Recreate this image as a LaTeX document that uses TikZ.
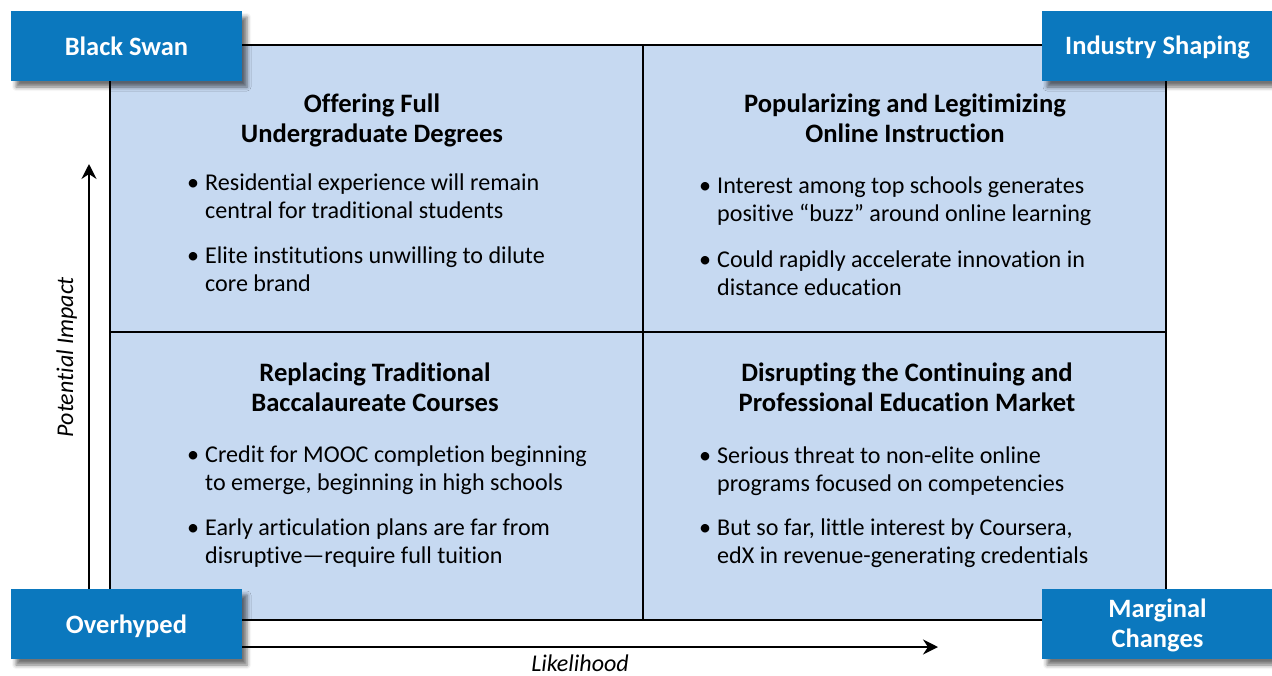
\documentclass[tikz,border=0pt]{standalone}
\usepackage{fontspec}
\setmainfont{Carlito}[Ligatures=NoCommon]
\usetikzlibrary{arrows.meta,shadows.blur}
\definecolor{qfill}{HTML}{C6D9F1}
\definecolor{cornerblue}{HTML}{0B78BE}
\newcommand\bulitem[1]{\makebox[18pt][l]{\textbullet}\begin{tabular}[t]{@{}l@{}}#1\end{tabular}}
\newcommand\ttlines[1]{\begin{tabular}[t]{@{}c@{}}#1\end{tabular}}
\begin{document}
\begin{tikzpicture}[x=1pt,y=-1pt,
  corner/.style={fill=cornerblue, text=white, font=\fontsize{26.5}{30.5}\selectfont\bfseries,
    minimum width=231pt, minimum height=70pt, inner sep=0pt,
    blur shadow={shadow xshift=5pt, shadow yshift=-6pt, shadow blur radius=4pt, shadow opacity=55}},
  cornertxt/.style={anchor=base, inner sep=0pt, text=white, font=\fontsize{26.5}{30.5}\selectfont\bfseries},
  ttl/.style={anchor=base, inner sep=0pt, font=\fontsize{26.6}{30.8}\selectfont\bfseries},
  itm/.style={anchor=base west, inner sep=0pt, font=\fontsize{24.1}{28}\selectfont},
  gridline/.style={draw=black, line width=1.8pt},
  axis/.style={line width=2pt, -{Stealth[length=15pt,width=15pt,inset=5pt]}},
  axlabel/.style={inner sep=0pt, font=\fontsize{24}{28}\selectfont\itshape}
]
\useasboundingbox (0,0) rectangle (1272,675);
% quadrant area
\fill[qfill] (110,45) rectangle (1166,620);
\draw[gridline] (110,45) rectangle (1166,620);
\coordinate (mt) at (643,45);
\coordinate (mb) at (643,620);
\coordinate (ml) at (110,332);
\coordinate (mr) at (1166,332);
\draw[gridline] (mt) -- (mb);
\draw[gridline] (ml) -- (mr);
% axes
\coordinate (vs) at (89,600);
\coordinate (ve) at (89,164);
\coordinate (hs) at (230,647);
\coordinate (he) at (938,647);
\draw[axis] (vs) -- (ve);
\draw[axis] (hs) -- (he);
\node[axlabel, anchor=base] (lik) at (580,671) {Likelihood};
\node[axlabel, rotate=90, anchor=base] (pot) at (73,357) {Potential Impact};
% corner boxes
\node[corner] (bs) at (126.5,46) {};
\node[corner] (is) at (1157.5,46) {};
\node[corner] (oh) at (126.5,624) {};
\node[corner] (mc) at (1157.5,624) {};
\node[cornertxt] (bst) at (126.5,55) {Black Swan};
\node[cornertxt] (ist) at (1157.5,54) {Industry Shaping};
\node[cornertxt] (oht) at (126.5,633) {Overhyped};
\node[cornertxt] (mct) at (1157.5,617) {\ttlines{Marginal\\Changes}};
% top left
\node[ttl] (t1) at (372,112) {\ttlines{Offering Full\\Undergraduate Degrees}};
\node[itm] (b11) at (187,190) {\bulitem{Residential experience will remain\\central for traditional students}};
\node[itm] (b12) at (187,263) {\bulitem{Elite institutions unwilling to dilute\\core brand}};
% top right
\node[ttl] (t2) at (905,112) {\ttlines{Popularizing and Legitimizing\\Online Instruction}};
\node[itm] (b21) at (699,193) {\bulitem{Interest among top schools generates\\positive “buzz” around online learning}};
\node[itm] (b22) at (699,267) {\bulitem{Could rapidly accelerate innovation in\\distance education}};
% bottom left
\node[ttl] (t3) at (375,381) {\ttlines{Replacing Traditional\\Baccalaureate Courses}};
\node[itm] (b31) at (187,462) {\bulitem{Credit for MOOC completion beginning\\to emerge, beginning in high schools}};
\node[itm] (b32) at (187,535) {\bulitem{Early articulation plans are far from\\disruptive—require full tuition}};
% bottom right
\node[ttl] (t4) at (907,381) {\ttlines{Disrupting the Continuing and\\Professional Education Market}};
\node[itm] (b41) at (699,463) {\bulitem{Serious threat to non-elite online\\programs focused on competencies}};
\node[itm] (b42) at (699,535) {\bulitem{But so far, little interest by Coursera,\\edX in revenue-generating credentials}};
\end{tikzpicture}
\end{document}
